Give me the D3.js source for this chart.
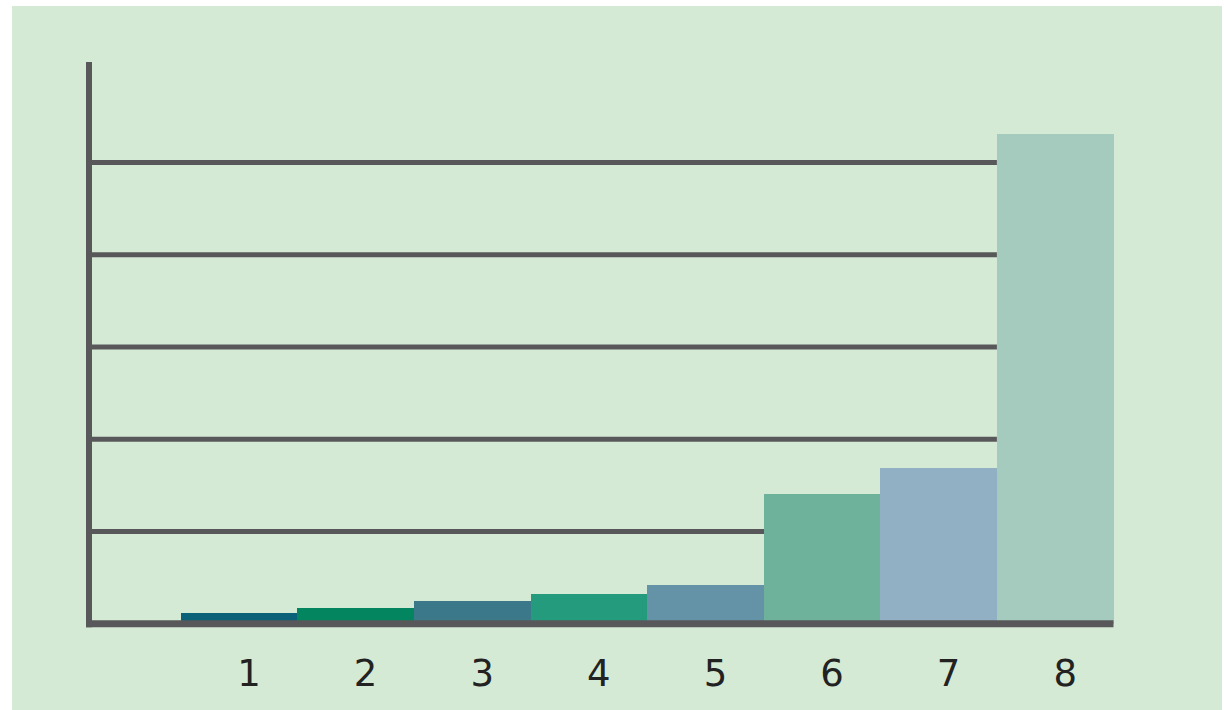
<!DOCTYPE html>
<html>
<head>
<meta charset="utf-8">
<script src="https://cdn.jsdelivr.net/npm/d3@7"></script>
<style>
  html, body { margin: 0; padding: 0; background: #ffffff; }
  svg { display: block; }
</style>
</head>
<body>
<script>
// ---- data ----
const categories = ["1", "2", "3", "4", "5", "6", "7", "8"];
const values = [2.3, 3.3, 4.9, 6.4, 8.3, 28.1, 33.8, 106.2];
const gridValues = [20, 40, 60, 80, 100];
const barColors = ["#0a6178", "#038660", "#3b7889", "#249b7d", "#6492a6", "#6fb29b", "#91b0c3", "#a4cbbd"];

const W = 1224, H = 710;
const svg = d3.select("body").append("svg").attr("width", W).attr("height", H);

// panel background
svg.append("rect").attr("x", 12).attr("y", 6).attr("width", 1210).attr("height", H - 6).attr("fill", "#d5ead4");

const axisX = 89, baseY = 623.7, topY = 62, rightX = 1113.5;
const x = d3.scaleBand().domain(categories).range([180.7, rightX]).padding(0);
const y = d3.scaleLinear().domain([0, 121.8]).range([baseY, topY]);
const axisColor = "#58585a";
const gridEnd = x(categories[categories.length - 1]);

// gridlines
svg.append("g").selectAll("line").data(gridValues).join("line")
  .attr("x1", axisX).attr("x2", gridEnd)
  .attr("y1", d => y(d)).attr("y2", d => y(d))
  .attr("stroke", axisColor).attr("stroke-width", 5);

// bars
svg.append("g").attr("shape-rendering", "crispEdges")
  .selectAll("rect").data(values).join("rect")
  .attr("x", (d, i) => x(categories[i]))
  .attr("width", x.bandwidth() + 0.5)
  .attr("y", d => y(d))
  .attr("height", d => baseY - y(d))
  .attr("fill", (d, i) => barColors[i]);

// axes lines
svg.append("line").attr("x1", axisX).attr("x2", axisX).attr("y1", topY).attr("y2", baseY + 3.5)
  .attr("stroke", axisColor).attr("stroke-width", 6);
svg.append("line").attr("x1", axisX - 3).attr("x2", rightX).attr("y1", baseY).attr("y2", baseY)
  .attr("stroke", axisColor).attr("stroke-width", 7);

// x labels
svg.append("g").selectAll("text").data(categories).join("text")
  .attr("x", d => x(d) + x.bandwidth() / 2 + 10)
  .attr("y", 686)
  .attr("text-anchor", "middle")
  .attr("font-family", "DejaVu Sans, sans-serif")
  .attr("font-size", 37)
  .attr("fill", "#222222")
  .text(d => d);
</script>
</body>
</html>
